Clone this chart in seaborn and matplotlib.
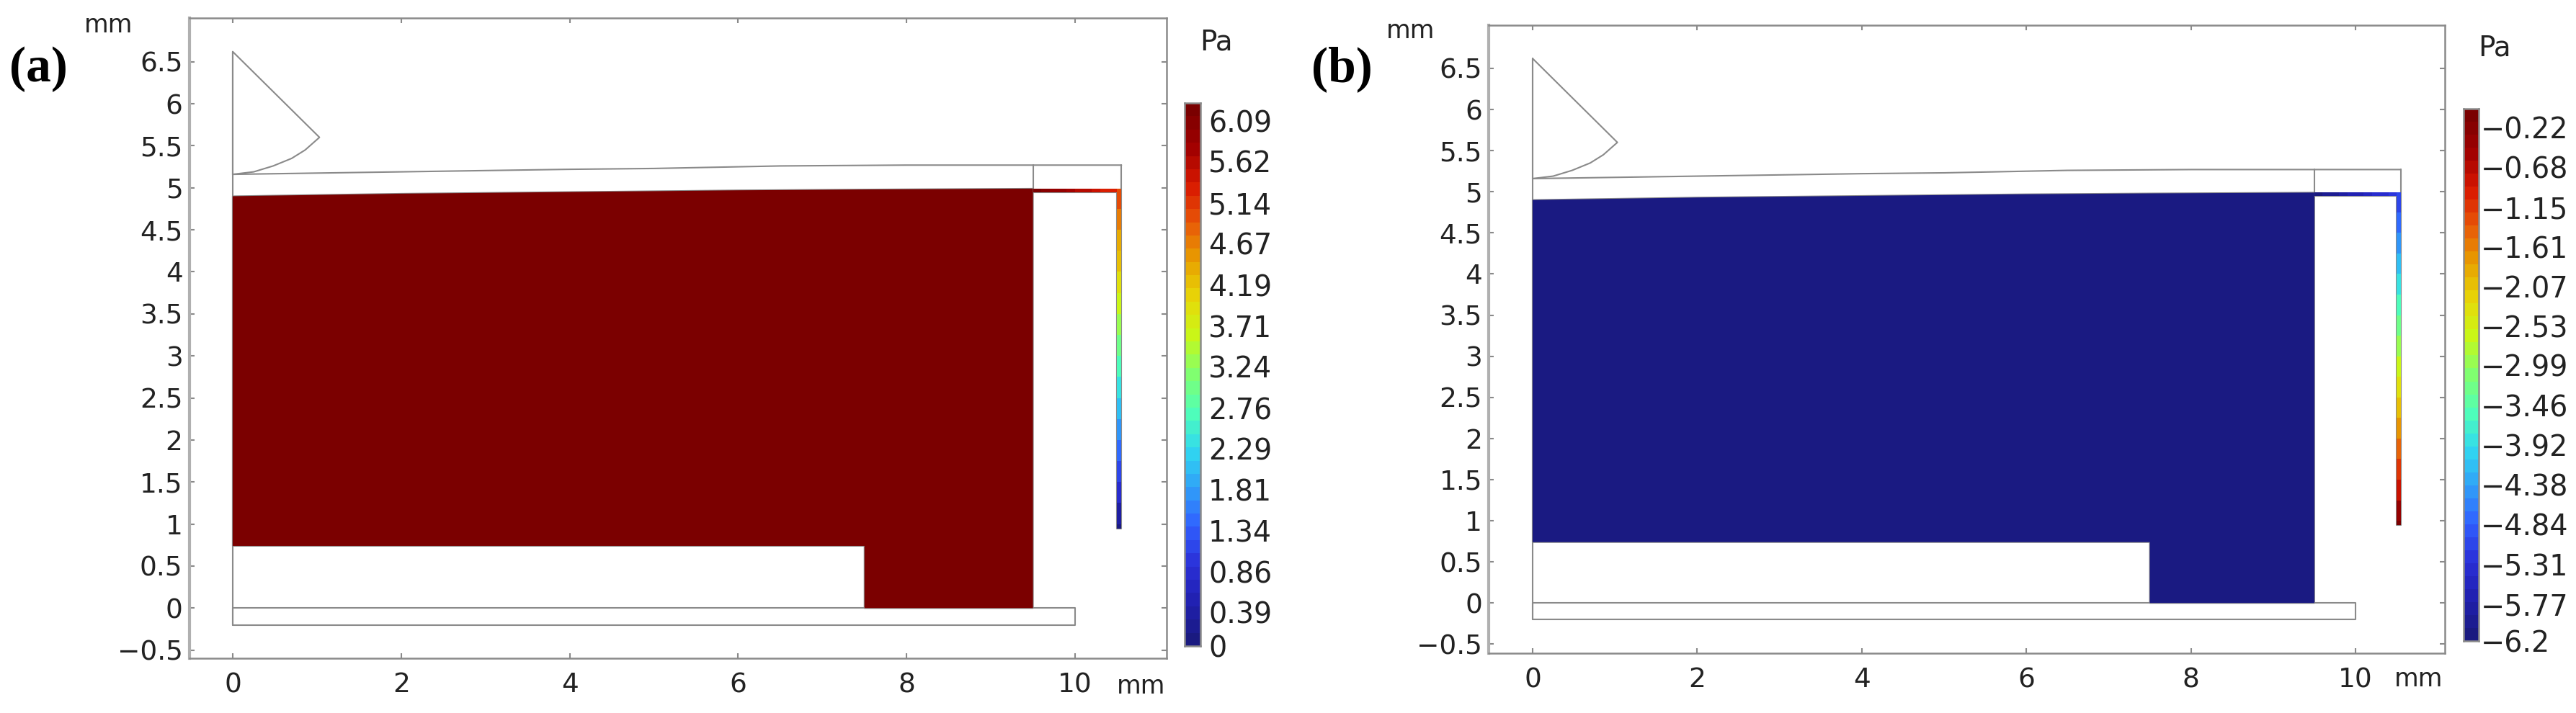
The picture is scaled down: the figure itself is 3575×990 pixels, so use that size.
import numpy as np
import matplotlib
matplotlib.use("Agg")
import matplotlib.pyplot as plt
from matplotlib.colors import LinearSegmentedColormap
import seaborn as sns

W, H = 3575, 990

# tick labels
x_ticks = [0, 2, 4, 6, 8, 10]
y_ticks = [-0.5, 0, 0.5, 1, 1.5, 2, 2.5, 3, 3.5, 4, 4.5, 5, 5.5, 6, 6.5]
y_labels = ["\u22120.5", "0", "0.5", "1", "1.5", "2", "2.5", "3", "3.5", "4", "4.5", "5", "5.5", "6", "6.5"]

# colour bars
cbar_a_ticks = [6.09, 5.62, 5.14, 4.67, 4.19, 3.71, 3.24, 2.76, 2.29, 1.81, 1.34, 0.86, 0.39, 0]
cbar_b_ticks = [-0.22, -0.68, -1.15, -1.61, -2.07, -2.53, -2.99, -3.46, -3.92, -4.38, -4.84, -5.31, -5.77, -6.2]

# geometry outlines (mm)
tip_x = [0, 0, 1.03, 0.86, 0.7, 0.48, 0.25, 0]
tip_y = [5.16, 6.62, 5.6, 5.45, 5.35, 5.26, 5.19, 5.16]
gap_top_x = [0, 2, 4, 5, 6.5, 8, 9.5, 10.55]
gap_top_y = [5.16, 5.19, 5.22, 5.23, 5.26, 5.27, 5.27, 5.27]
fluid_x = [0, 2, 4, 6, 7.5, 9.5, 9.5, 7.5, 7.5, 0]
fluid_y = [4.9, 4.93, 4.95, 4.97, 4.98, 4.99, 0, 0, 0.74, 0.74]
substrate_x = [0, 10, 10, 0, 0]
substrate_y = [0, 0, -0.2, -0.2, 0]

# pressure along the thin channel
channel_x = [9.5, 9.6, 9.7, 9.8, 9.9, 10, 10.1, 10.2, 10.3, 10.4, 10.55]
channel_y = [4.99, 4.75, 4.5, 4.25, 4, 3.75, 3.5, 3.25, 3, 2.75, 2.5, 2.25, 2, 1.75, 1.5, 1.25, 1, 0.945]
p_a_top = [6.15, 6.05, 5.95, 5.85, 5.75, 5.65, 5.55, 5.45, 5.35, 5.25]
p_a_side = [5.0, 4.75, 4.45, 4.15, 3.85, 3.55, 3.25, 2.95, 2.65, 2.35, 2.05, 1.75, 1.4, 1.1, 0.8, 0.45, 0.1]
p_b_top = [-6.1, -6.0, -5.9, -5.8, -5.7, -5.6, -5.5, -5.4, -5.3, -5.2]
p_b_side = [-5.0, -4.75, -4.45, -4.15, -3.85, -3.55, -3.25, -2.95, -2.65, -2.35, -2.05, -1.75, -1.4, -1.1, -0.8, -0.45, -0.1]

rainbow = ["#1a1a80", "#2020b0", "#2a30d8", "#3060ff", "#30a0f8", "#30d8f0", "#50ffb8", "#80ff70",
           "#c8f818", "#e8d808", "#e8a000", "#e85808", "#d81800", "#a00000", "#7a0000"]
N_BANDS = 41
cmap = LinearSegmentedColormap.from_list("comsol", rainbow, N=N_BANDS)

LINE = "#8a8a8a"
TEXT = "#222222"

sns.set_theme(style="white")
plt.rcParams["font.family"] = "DejaVu Sans"


def px_axes(fig, left, top, right, bottom):
    return fig.add_axes([left / W, 1 - bottom / H, (right - left) / W, (bottom - top) / H])


def outline(ax, x, y):
    sns.lineplot(x=x, y=y, sort=False, estimator=None, color=LINE, linewidth=1.5, ax=ax, legend=False)


def draw_panel(fig, box, xlim, ylim, fill, p_top, p_side, vmin, vmax):
    ax = px_axes(fig, *box)
    outline(ax, tip_x, tip_y)
    outline(ax, gap_top_x, gap_top_y)
    outline(ax, fluid_x + fluid_x[:1], fluid_y + fluid_y[:1])
    outline(ax, substrate_x, substrate_y)
    outline(ax, [0, 0], [-0.2, 6.62])
    outline(ax, [9.5, 9.5], [4.99, 5.27])
    outline(ax, [10.55, 10.55, 10.5, 10.5], [5.27, 0.945, 0.945, 4.95])
    outline(ax, [9.5, 10.5], [4.95, 4.95])
    # fields go over the outlines so the thin channel keeps its colour
    ax.fill(fluid_x, fluid_y, color=fill, lw=0, zorder=3)
    ax.pcolormesh(channel_x, [4.95, 4.99], [p_top], cmap=cmap, vmin=vmin, vmax=vmax, zorder=3)
    ax.pcolormesh([10.5, 10.55], channel_y, np.array(p_side).reshape(-1, 1), cmap=cmap,
                  vmin=vmin, vmax=vmax, zorder=3)

    ax.set_xlim(*xlim)
    ax.set_ylim(*ylim)
    ax.set_xticks(x_ticks)
    ax.set_yticks(y_ticks)
    ax.set_yticklabels(y_labels)
    ax.tick_params(axis="both", direction="in", length=5, width=1.5, color=LINE, labelcolor=TEXT,
                   labelsize=27, top=True, right=True, bottom=True, left=True)
    ax.tick_params(axis="x", pad=14)
    ax.tick_params(axis="y", pad=6.5)
    for name, spine in ax.spines.items():
        spine.set_visible(True)
        spine.set_color("#b0b0b0" if name == "left" else LINE)
        spine.set_linewidth(3 if name == "left" else 1.8)
    ax.set_xlabel("")
    ax.set_ylabel("")
    return ax


def draw_cbar(fig, box, ticks, vmin, vmax, pad):
    cax = px_axes(fig, *box)
    step = (vmax - vmin) / N_BANDS
    levels = (vmax - step * (np.arange(N_BANDS) + 0.5)).reshape(-1, 1)
    sns.heatmap(levels, cmap=cmap, vmin=vmin, vmax=vmax, cbar=False, xticklabels=False,
                yticklabels=False, ax=cax)
    cax.yaxis.tick_right()
    cax.set_yticks([(vmax - t) / step for t in ticks])
    cax.set_yticklabels([f"{t:g}".replace("-", "\u2212") if t in (0, -6.2) else f"{t:.2f}".replace("-", "\u2212")
                         for t in ticks])
    cax.set_yticks(np.arange(1, N_BANDS), minor=True)
    cax.tick_params(axis="y", which="major", length=0, labelsize=28.5, labelcolor=TEXT, pad=pad,
                    right=False, left=False)
    cax.tick_params(axis="y", which="minor", direction="in", length=2.5, width=1.5, color="#303030",
                    left=True, right=True)
    for spine in cax.spines.values():
        spine.set_visible(True)
        spine.set_color(LINE)
        spine.set_linewidth(1.8)
    return cax


def put_text(fig, x, y, s, **kw):
    fig.text(x / W, 1 - y / H, s, **kw)


fig = plt.figure(figsize=(W / 100, H / 100), dpi=100, facecolor="white")

draw_panel(fig, (262.5, 25, 1619, 914), (-0.517, 11.086), (-0.597, 7.02), "#7b0000", p_a_top, p_a_side, 0, 6.3)
draw_panel(fig, (2066, 35, 3392.7, 906.7), (-0.534, 11.083), (-0.608, 7.025), "#1a1a82", p_b_top, p_b_side, -6.2, 0)
draw_cbar(fig, (1644, 143, 1666, 897), cbar_a_ticks, 0, 6.3, 8)
draw_cbar(fig, (3419, 151, 3440, 890), cbar_b_ticks, -6.2, 0, 2)

unit = dict(fontsize=25, color=TEXT, ha="left", va="baseline")
put_text(fig, 117, 45, "mm", **unit)
put_text(fig, 1924, 53, "mm", **unit)
put_text(fig, 1550, 963, "mm", **unit)
put_text(fig, 3323, 953, "mm", **unit)
pa = dict(fontsize=28, color=TEXT, ha="left", va="baseline")
put_text(fig, 1665, 69, "Pa", **pa)
put_text(fig, 3439, 78, "Pa", **pa)

tag = dict(fontsize=50, color="black", family="Liberation Serif", fontweight="bold", ha="left", va="baseline")
put_text(fig, 13, 113, "(a)", **tag)
put_text(fig, 1820, 113, "(b)", **tag)

fig.savefig("out.png", dpi=100)
